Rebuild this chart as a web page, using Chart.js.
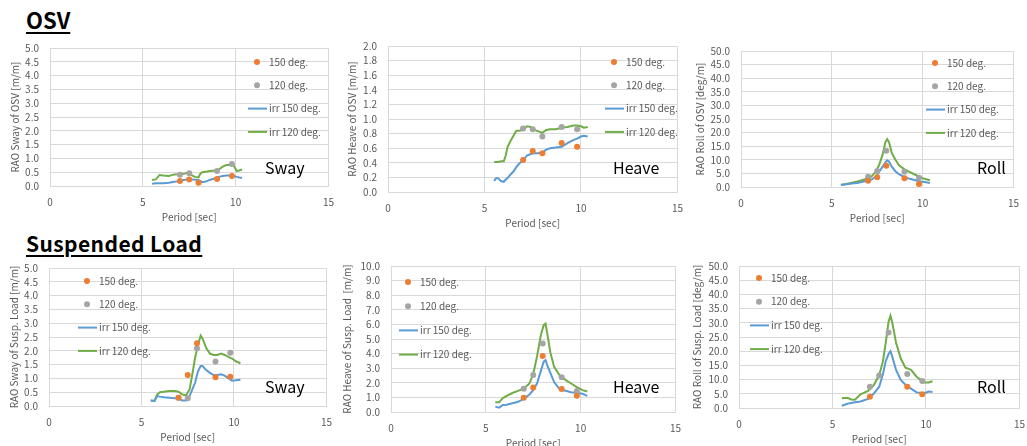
<!DOCTYPE html>
<html>
<head>
<meta charset="utf-8">
<script src="https://cdn.jsdelivr.net/npm/chart.js@4.4.0/dist/chart.umd.min.js"></script>
<style>
  body { margin: 0; width: 1027px; height: 446px; background: #fff; position: relative; overflow: hidden;
         font-family: "Noto Sans CJK JP", "Noto Sans", sans-serif; }
  .head { position: absolute; font-weight: bold; color: #000; line-height: 1; white-space: nowrap;
          text-decoration: underline; text-decoration-thickness: 2px; text-underline-offset: 3px; }
  canvas { position: absolute; }
</style>
</head>
<body>
<div class="head" style="left:26px;top:8px;font-size:22px">OSV</div>
<div class="head" style="left:26px;top:233px;font-size:21px;letter-spacing:0.4px">Suspended Load</div>

<script>
// periods of the regular-wave tests (same for all six panels)
const expPeriod = [7.0, 7.5, 8.0, 9.0, 9.8];
const legendNames = ['150 deg.', '120 deg.', 'irr 150 deg.', 'irr 120 deg.'];

// OSV sway [m/m]
const osvSway150 = [0.18, 0.24, 0.12, 0.25, 0.36];
const osvSway120 = [0.41, 0.46, null, 0.54, 0.80];
const osvSwayIrrT = [5.5, 5.7, 5.9, 6.1, 6.4, 6.7, 7.0, 7.2, 7.4, 7.6, 7.8, 8.0, 8.1, 8.2, 8.4, 8.6, 8.9, 9.1, 9.3, 9.5, 9.7, 9.9, 10.05, 10.2, 10.35];
const osvSwayIrr150 = [0.08, 0.10, 0.10, 0.10, 0.12, 0.15, 0.19, 0.22, 0.24, 0.24, 0.23, 0.22, 0.18, 0.14, 0.16, 0.22, 0.28, 0.33, 0.36, 0.38, 0.38, 0.36, 0.33, 0.31, 0.30];
const osvSwayIrr120 = [0.22, 0.24, 0.40, 0.38, 0.36, 0.42, 0.43, 0.44, 0.48, 0.40, 0.33, 0.31, 0.45, 0.50, 0.52, 0.54, 0.56, 0.60, 0.70, 0.76, 0.76, 0.74, 0.55, 0.56, 0.60];

// OSV heave [m/m]
const osvHeave150 = [0.44, 0.56, 0.53, 0.67, 0.62];
const osvHeave120 = [0.87, 0.86, 0.76, 0.89, 0.86];
const osvHeaveIrrT = [5.5, 5.6, 5.7, 5.85, 6.0, 6.1, 6.2, 6.35, 6.5, 6.65, 6.8, 7.0, 7.2, 7.4, 7.6, 7.8, 8.0, 8.2, 8.4, 8.7, 9.0, 9.3, 9.6, 9.8, 10.0, 10.15, 10.35];
const osvHeaveIrr150 = [0.15, 0.19, 0.19, 0.15, 0.14, 0.17, 0.19, 0.24, 0.28, 0.34, 0.39, 0.43, 0.50, 0.52, 0.53, 0.53, 0.54, 0.58, 0.60, 0.61, 0.62, 0.67, 0.71, 0.73, 0.76, 0.77, 0.76];
const osvHeaveIrr120 = [0.41, 0.41, 0.41, 0.42, 0.42, 0.50, 0.62, 0.70, 0.77, 0.84, 0.84, 0.85, 0.90, 0.89, 0.85, 0.83, 0.81, 0.85, 0.86, 0.86, 0.88, 0.89, 0.91, 0.91, 0.90, 0.88, 0.89];

// OSV roll [deg/m]
const osvRoll150 = [2.3, 3.6, 7.8, 3.2, 1.1];
const osvRoll120 = [3.8, 5.9, 13.3, 5.6, 3.4];
const osvRollIrrT = [5.5, 5.8, 6.1, 6.4, 6.7, 7.0, 7.2, 7.4, 7.6, 7.8, 7.95, 8.05, 8.15, 8.3, 8.5, 8.7, 9.0, 9.3, 9.6, 9.9, 10.1, 10.4];
const osvRollIrr150 = [0.7, 1.0, 1.3, 1.5, 1.9, 2.4, 2.8, 3.6, 5.5, 7.5, 9.0, 9.8, 9.4, 7.5, 5.8, 4.7, 3.6, 3.0, 2.5, 2.0, 1.8, 1.5];
const osvRollIrr120 = [0.8, 1.1, 1.6, 2.0, 2.6, 3.2, 4.0, 5.5, 8.0, 12.0, 16.5, 17.6, 16.5, 12.5, 10.0, 8.0, 6.5, 5.5, 4.5, 3.5, 3.0, 2.5];

// suspended load sway [m/m]
const loadSway150 = [0.30, 1.12, 2.27, 1.04, 1.06];
const loadSway120 = [0.30, 0.28, 2.09, 1.61, 1.93];
const loadSwayIrrT = [5.5, 5.7, 5.85, 6.0, 6.2, 6.5, 6.8, 7.0, 7.2, 7.4, 7.6, 7.75, 7.9, 8.05, 8.2, 8.3, 8.5, 8.7, 8.9, 9.1, 9.3, 9.5, 9.7, 9.9, 10.1, 10.35];
const loadSwayIrr150 = [0.20, 0.18, 0.36, 0.34, 0.32, 0.30, 0.28, 0.27, 0.20, 0.20, 0.36, 0.60, 0.85, 1.25, 1.45, 1.45, 1.30, 1.20, 1.12, 1.12, 1.15, 1.10, 1.00, 0.92, 0.93, 0.95];
const loadSwayIrr120 = [0.20, 0.18, 0.42, 0.50, 0.52, 0.54, 0.54, 0.52, 0.42, 0.38, 0.60, 1.15, 1.75, 2.20, 2.55, 2.45, 2.10, 1.90, 1.85, 1.85, 1.90, 1.85, 1.78, 1.72, 1.62, 1.55];

// suspended load heave [m/m]
const loadHeave150 = [0.98, 1.67, 3.84, 1.58, 1.12];
const loadHeave120 = [1.60, 2.53, 4.70, 2.38, 1.44];
const loadHeaveIrrT = [5.5, 5.7, 5.9, 6.1, 6.4, 6.7, 7.0, 7.3, 7.5, 7.7, 7.9, 8.05, 8.15, 8.25, 8.4, 8.6, 8.9, 9.2, 9.5, 9.8, 10.1, 10.35];
const loadHeaveIrr150 = [0.37, 0.30, 0.48, 0.50, 0.60, 0.70, 0.90, 1.20, 1.50, 1.95, 2.80, 3.45, 3.55, 3.15, 2.70, 2.05, 1.55, 1.45, 1.35, 1.30, 1.25, 1.10];
const loadHeaveIrr120 = [0.66, 0.66, 0.95, 1.10, 1.30, 1.45, 1.60, 1.95, 2.60, 3.80, 5.25, 5.95, 6.05, 5.30, 4.10, 3.10, 2.50, 2.20, 1.95, 1.70, 1.50, 1.40];

// suspended load roll [deg/m]
const loadRoll150 = [4.0, null, null, 7.5, 4.8];
const loadRoll120 = [7.5, 11.4, 26.6, 12.0, 9.5];
const loadRollIrrT = [5.5, 5.8, 6.0, 6.2, 6.5, 6.9, 7.2, 7.5, 7.7, 7.85, 8.0, 8.1, 8.2, 8.4, 8.65, 8.9, 9.2, 9.5, 9.9, 10.15, 10.35];
const loadRollIrr150 = [0.8, 1.5, 1.8, 2.0, 2.3, 3.2, 5.0, 7.5, 12.0, 16.5, 19.0, 20.0, 18.0, 13.4, 9.9, 8.2, 6.8, 5.5, 5.2, 5.8, 5.6];
const loadRollIrr120 = [3.4, 3.6, 3.0, 2.9, 4.8, 6.0, 8.0, 11.6, 16.5, 23.0, 30.4, 32.5, 30.0, 23.0, 17.5, 14.2, 13.4, 11.0, 9.0, 9.0, 9.4];

const FONT = '"Noto Sans CJK JP", "Noto Sans", sans-serif';
Chart.defaults.font.family = FONT;
Chart.defaults.font.size = 10;
Chart.defaults.color = '#595959';

const TICK_PAD = 11;
const TOP_PAD = 6 + TICK_PAD; // half a label line + tick padding, what Chart.js reserves above the y axis

const toPts = (xs, ys) => xs.map((x, i) => ({ x: x, y: ys[i] })).filter(p => p.y !== null);

// legend + panel name drawn inside the plot area, like the spreadsheet charts
const overlay = {
  id: 'overlay',
  afterDraw(chart, args, o) {
    const { ctx, chartArea: a } = chart;
    ctx.save();
    ctx.font = '10px ' + FONT;
    ctx.textBaseline = 'middle';
    chart.data.datasets.forEach((ds, i) => {
      const x = a.left + o.lx, y = a.top + o.ly + i * o.gap;
      if (ds.showLine) {
        ctx.strokeStyle = ds.borderColor; ctx.lineWidth = 2;
        ctx.beginPath(); ctx.moveTo(x - 9, y); ctx.lineTo(x + 10, y); ctx.stroke();
      } else {
        ctx.fillStyle = ds.backgroundColor;
        ctx.beginPath(); ctx.arc(x, y, 3, 0, Math.PI * 2); ctx.fill();
      }
      ctx.fillStyle = '#595959';
      ctx.fillText(ds.label, x + 12, y);
    });
    ctx.font = '16px ' + FONT;
    ctx.fillStyle = '#000';
    ctx.fillText(o.name, a.left + o.tx, a.top + o.ty);
    ctx.restore();
  }
};

function panel(p) {
  const left = p.titleX - 8, top = p.T - TOP_PAD;
  const cv = document.createElement('canvas');
  cv.width = p.R + 14 - left; cv.height = p.B + 44 - top;
  cv.style.left = left + 'px'; cv.style.top = top + 'px';
  document.body.appendChild(cv);
  const scatterSet = (label, ys, col) => ({
    label, data: toPts(expPeriod, ys), showLine: false, backgroundColor: col, borderColor: col,
    pointRadius: 3, pointBorderWidth: 0, order: 0
  });
  const lineSet = (label, ys, col) => ({
    label, data: toPts(p.irrT, ys), showLine: true, borderColor: col, backgroundColor: col,
    borderWidth: 2, pointRadius: 0, tension: 0, order: 1
  });
  new Chart(cv, {
    type: 'scatter',
    data: {
      datasets: [
        scatterSet(legendNames[0], p.d150, '#ED7D31'),
        scatterSet(legendNames[1], p.d120, '#A5A5A5'),
        lineSet(legendNames[2], p.irr150, '#5B9BD5'),
        lineSet(legendNames[3], p.irr120, '#70AD47')
      ]
    },
    options: {
      responsive: false, animation: false,
      layout: { padding: { top: TOP_PAD, right: 14, left: 0, bottom: 0 } },
      plugins: { legend: { display: false }, tooltip: { enabled: false },
                 overlay: { lx: p.lx, ly: p.ly, gap: p.gap, name: p.name, tx: p.tx, ty: p.ty } },
      scales: {
        x: {
          min: 0, max: 15,
          ticks: { stepSize: 5, padding: 10, maxRotation: 0, autoSkip: false },
          grid: { color: '#d9d9d9', drawTicks: false },
          border: { color: '#d9d9d9' },
          title: { display: true, text: 'Period [sec]', padding: { top: 0, bottom: 7 } },
          afterFit: s => { s.height = 44; }
        },
        y: {
          min: 0, max: p.ymax,
          ticks: { stepSize: p.ystep, padding: TICK_PAD, autoSkip: false, callback: v => Number(v).toFixed(1) },
          grid: { color: '#d9d9d9', drawTicks: false },
          border: { color: '#d9d9d9' },
          title: { display: true, text: p.ytitle, padding: { top: 2, bottom: 0 } },
          afterFit: s => { s.width = p.L - left; }
        }
      }
    },
    plugins: [overlay]
  });
}

panel({ L: 50, T: 48, R: 330, B: 186, titleX: 15, ymax: 5, ystep: 0.5, ytitle: 'RAO Sway of OSV [m/m]',
  d150: osvSway150, d120: osvSway120, irrT: osvSwayIrrT, irr150: osvSwayIrr150, irr120: osvSwayIrr120,
  lx: 207, ly: 14, gap: 23.3, name: 'Sway', tx: 215, ty: 120 });
panel({ L: 388, T: 46, R: 679, B: 192, titleX: 352, ymax: 2, ystep: 0.2, ytitle: 'RAO Heave of OSV [m/m]',
  d150: osvHeave150, d120: osvHeave120, irrT: osvHeaveIrrT, irr150: osvHeaveIrr150, irr120: osvHeaveIrr120,
  lx: 226, ly: 16, gap: 23.3, name: 'Heave', tx: 225, ty: 122 });
panel({ L: 741, T: 51, R: 1015, B: 187, titleX: 700, ymax: 50, ystep: 5, ytitle: 'RAO Roll of OSV [deg/m]',
  d150: osvRoll150, d120: osvRoll120, irrT: osvRollIrrT, irr150: osvRollIrr150, irr120: osvRollIrr120,
  lx: 194, ly: 12, gap: 23.3, name: 'Roll', tx: 236, ty: 117 });
panel({ L: 49, T: 268, R: 328, B: 406, titleX: 14, ymax: 5, ystep: 0.5, ytitle: 'RAO Sway of Susp. Load [m/m]',
  d150: loadSway150, d120: loadSway120, irrT: loadSwayIrrT, irr150: loadSwayIrr150, irr120: loadSwayIrr120,
  lx: 38, ly: 13, gap: 23.3, name: 'Sway', tx: 216, ty: 119 });
panel({ L: 391, T: 266, R: 677, B: 412, titleX: 347, ymax: 10, ystep: 1, ytitle: 'RAO Heave of Susp. Load  [m/m]',
  d150: loadHeave150, d120: loadHeave120, irrT: loadHeaveIrrT, irr150: loadHeaveIrr150, irr120: loadHeaveIrr120,
  lx: 17, ly: 16, gap: 24.2, name: 'Heave', tx: 222, ty: 121 });
panel({ L: 739, T: 266, R: 1021, B: 408, titleX: 697, ymax: 50, ystep: 5, ytitle: 'RAO Roll of Susp. Load [deg/m]',
  d150: loadRoll150, d120: loadRoll120, irrT: loadRollIrrT, irr150: loadRollIrr150, irr120: loadRollIrr120,
  lx: 20, ly: 12, gap: 23.7, name: 'Roll', tx: 238, ty: 121 });
</script>
</body>
</html>
